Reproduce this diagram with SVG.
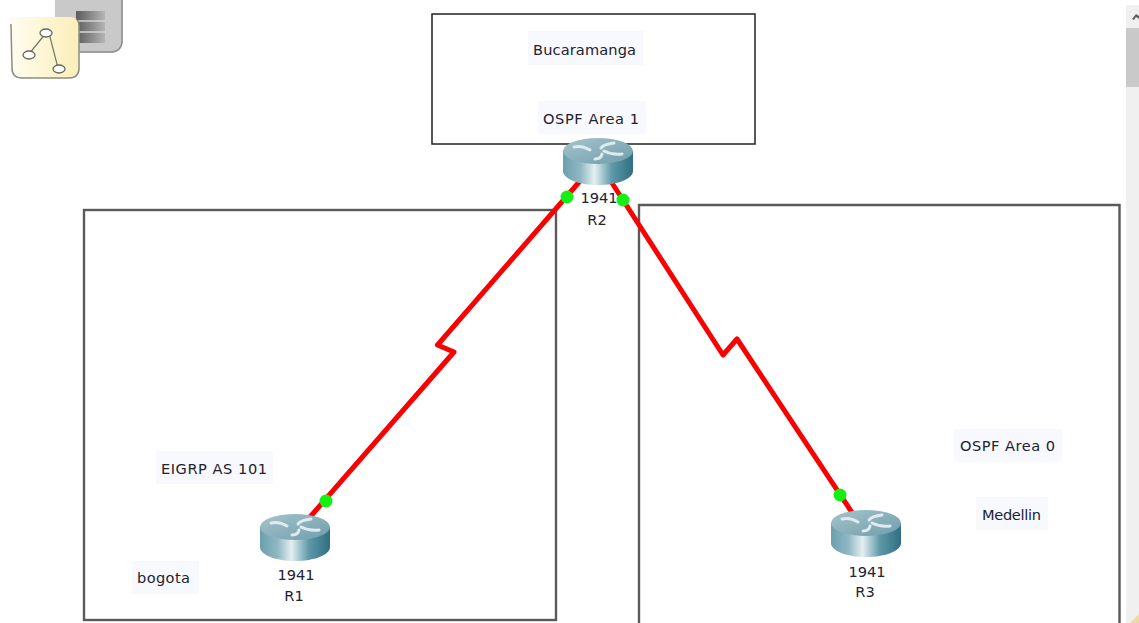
<svg xmlns="http://www.w3.org/2000/svg" width="1139" height="623" viewBox="0 0 1139 623">
<style>
.t{font-family:"DejaVu Sans",Verdana,sans-serif;font-size:14.6px;fill:#222230;text-anchor:middle}
.lb{fill:#f8f9ff}
.area{fill:none;stroke:#5a5a5a;stroke-width:2.4}
.link{fill:none;stroke:#fa0000;stroke-width:5;stroke-linejoin:round}
.dot{fill:#14f014}
.arm{fill:none;stroke:#dfeaee;stroke-width:3;stroke-linecap:round}
</style>
<defs>
<linearGradient id="side" x1="0" x2="1" y1="0" y2="0">
<stop offset="0" stop-color="#6a9fae"/><stop offset=".25" stop-color="#8fb8c2"/><stop offset=".45" stop-color="#e4eff2"/><stop offset=".7" stop-color="#5d98a8"/><stop offset="1" stop-color="#2f6f82"/>
</linearGradient>
<linearGradient id="top" x1="0" x2="1" y1="0" y2="1">
<stop offset="0" stop-color="#a5c4cc"/><stop offset="1" stop-color="#6f9dab"/>
</linearGradient>
<linearGradient id="paper" x1="0" x2="1" y1="0" y2="0">
<stop offset="0" stop-color="#fffdf0"/><stop offset="1" stop-color="#fbeeb8"/>
</linearGradient>
<linearGradient id="stack" x1="0" x2="1" y1="0" y2="0">
<stop offset="0" stop-color="#5c5c5c"/><stop offset="1" stop-color="#b5b5b5"/>
</linearGradient>
<g id="router">
<path d="M-35 0V20C-35 28-19 34 0 34S35 28 35 20V0Z" fill="url(#side)"/>
<ellipse cx="0" cy="0" rx="35" ry="13" fill="url(#top)"/>
<path class="arm" d="M-24-4Q-16-6-8-1M24 3Q14 4 6 0M-3 8Q3 8 4 3M16-8Q6-7 3-3"/>
</g>
</defs>
<rect width="1139" height="623" fill="#fff"/>
<g id="toolbar-icon">
<path d="M55 0H123V40Q123 53 110 53H55Z" fill="#c9c9c9"/>
<path d="M122 0V40Q122 52 110 52H80" fill="none" stroke="#8f8f8f" stroke-width="1.5"/>
<rect x="76" y="11" width="29" height="32" fill="url(#stack)"/>
<path d="M76 21H105M76 32H105" stroke="#d5d5d5" stroke-width="1.5"/>
<path d="M10 17H70Q79 17 79 26V68Q79 78 69 78H22Q12 78 12 68L10 25Z" fill="url(#paper)"/>
<path d="M10 25H11L12 68Q12 78 22 78H69Q79 78 79 68V26Q79 21 76 19" fill="none" stroke="#8d8d80" stroke-width="1.5"/>
<path d="M46 33L29 54M49 33L58 68" stroke="#77776a" stroke-width="1.2" fill="none"/>
<ellipse cx="46" cy="33" rx="6" ry="4" fill="#fff" stroke="#66665c" stroke-width="1.3"/>
<ellipse cx="29" cy="55" rx="6" ry="4" fill="#fff" stroke="#66665c" stroke-width="1.3"/>
<ellipse cx="59" cy="69" rx="6" ry="4" fill="#fff" stroke="#66665c" stroke-width="1.3"/>
</g>
<g id="scrollbar">
<rect x="1126" y="5" width="13" height="618" fill="#f0f0f0"/>
<rect x="1126" y="28" width="13" height="59" fill="#c9c9c9"/>
<path d="M1132 19L1136 14L1139 16V19L1136 17L1134 20Z" fill="#606060"/>
<path d="M1130 623L1139 614V623Z" fill="#e8dca0"/>
</g>
<g id="area-bucaramanga"><rect x="432" y="14" width="323" height="130" fill="none" stroke="#222" stroke-width="1.5"/></g>
<g id="area-bogota"><rect x="84" y="210" width="472" height="410" class="area"/></g>
<g id="area-medellin"><path d="M639 623V205H1119.500V623" class="area"/></g>
<g id="connectors">
<path class="link" d="M580 181L437.500 345L454 352L310 517"/>
<path class="link" d="M612 183L723 355L737 339L853 514"/>
</g>
<g id="R2"><use href="#router" x="598" y="151"/><text class="t" x="599" y="203">1941</text><text class="t" x="597" y="225">R2</text></g>
<g id="R1"><use href="#router" x="295" y="527"/><text class="t" x="296" y="580">1941</text><text class="t" x="294" y="601">R1</text></g>
<g id="R3"><use href="#router" x="866" y="523"/><text class="t" x="867" y="577">1941</text><text class="t" x="865" y="597">R3</text></g>
<g id="link-dots">
<circle class="dot" cx="567" cy="197" r="6.500"/><circle class="dot" cx="623" cy="200" r="6.500"/>
<circle class="dot" cx="326" cy="501" r="6.500"/><circle class="dot" cx="840" cy="495" r="6.500"/>
</g>
<g id="label-bucaramanga"><rect class="lb" x="528" y="31" width="115" height="34"/><text class="t" x="584.500" y="55" textLength="103">Bucaramanga</text></g>
<g id="label-ospf1"><rect class="lb" x="538" y="101" width="108" height="33"/><text class="t" x="591" y="124" textLength="96">OSPF Area 1</text></g>
<g id="label-eigrp"><rect class="lb" x="156" y="451" width="117" height="33"/><text class="t" x="214" y="474" textLength="106">EIGRP AS 101</text></g>
<g id="label-bogota"><rect class="lb" x="132" y="561" width="67" height="33"/><text class="t" x="163.500" y="583" textLength="53">bogota</text></g>
<g id="label-ospf0"><rect class="lb" x="954" y="429" width="108" height="33"/><text class="t" x="1007.500" y="451" textLength="95">OSPF Area 0</text></g>
<g id="label-medellin"><rect class="lb" x="976" y="497" width="72" height="33"/><text class="t" x="1011.500" y="520" textLength="59">Medellin</text></g>
</svg>
